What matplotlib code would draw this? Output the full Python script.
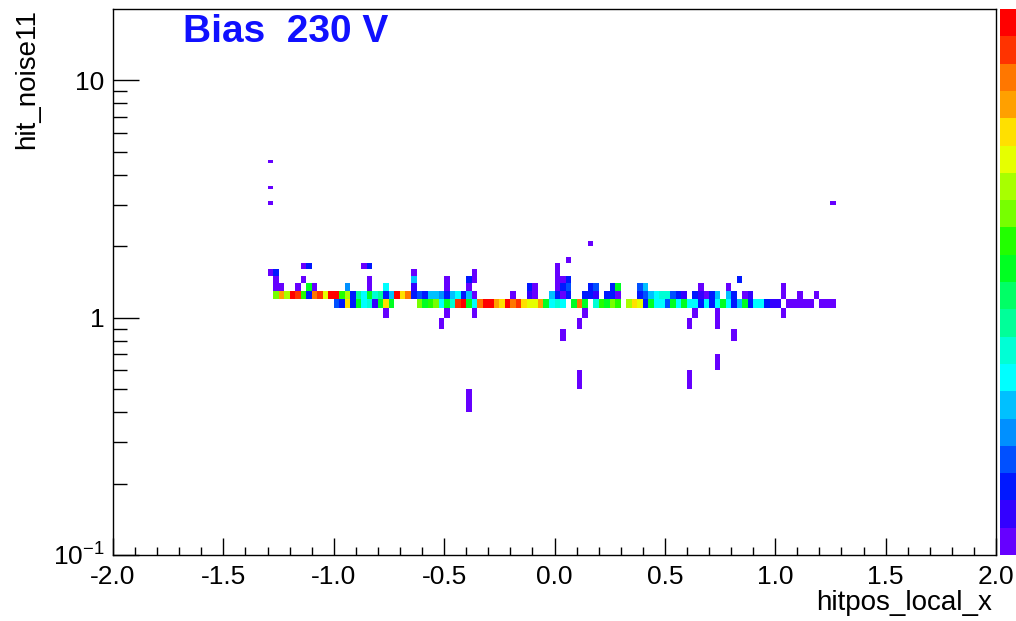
import numpy as np
import matplotlib
matplotlib.use("Agg")
import matplotlib.pyplot as plt
from matplotlib.colors import ListedColormap, BoundaryNorm
from matplotlib.ticker import FixedLocator, FixedFormatter, NullFormatter

plt.rcParams['font.family'] = ['Liberation Sans', 'DejaVu Sans']
plt.rcParams['axes.unicode_minus'] = False

# histogram binning
x_edges = np.linspace(-2.0, 2.0, 161)
y_edges = np.round(np.arange(1, 201) * 0.1, 1)

# dense band: one count per x bin, first bin centre at -1.2625 (step 0.025)
band_x0 = -1.2625
band_hi_y = 1.25   # row 1.2 - 1.3
band_lo_y = 1.15   # row 1.1 - 1.2
band_hi = [13, 17, 14, 20, 19, 12, 3, 18, 19, 15, 20, 20, 12, 14, 3, 9, 7,
           11, 8, 9, 3, 6, 20, 16, 18, 3, 4, 3, 6, 6, 5, 3, 6, 7, 3,
           6, 1, 0, 0, 0, 0, 0, 0, 1, 0, 0, 2, 1, 0, 0, 6, 3,
           1, 3, 0, 0, 3, 3, 2, 0, 3, 3, 1, 0, 0, 0, 3, 4, 6, 7,
           8, 8, 4, 3, 2, 0, 3, 2, 1, 3, 6, 0, 6, 3, 0, 1, 2, 0,
           0, 0, 0, 0, 1, 0, 0, 1, 0, 0, 1, 0, 0, 0]
band_lo = [0, 0, 0, 0, 0, 0, 0, 0, 0, 0, 0,
           4, 3, 16, 3, 11, 7, 8, 2, 11, 16, 11,
           0, 0, 0, 0,
           13, 11, 12, 13, 7, 11, 8, 19, 20, 11, 7, 18, 20, 20, 17, 16, 20, 18,
           19, 16, 15, 15, 17, 11, 7, 8,
           7, 0, 11, 18, 11, 0, 8, 12, 11, 13, 12, 0, 14, 16, 15, 3, 11, 7,
           7, 4, 11, 7, 11, 7, 7, 3, 7, 3, 7, 11, 7, 3, 6, 11, 3, 7,
           7, 3, 2, 2, 0, 1, 1, 1, 1, 1, 0, 1, 1, 1]

# scattered entries off the band (bin centres)
out_x = [-1.2875, -1.2875, -1.2875, 1.2625, -1.2875, -1.2625, -1.2625, -1.2625,
         -1.2375, -1.1625, -1.1375, -1.1125, -1.1375, -1.1125, -1.0875, -0.9375,
         -0.8625, -0.8375, -0.8375, -0.8375, -0.7625, -0.7625, -0.6375, -0.6375,
         -0.6375, -0.5125, -0.4875, -0.4875, -0.4875, -0.3875, -0.3875, -0.3875,
         -0.3625, -0.3625, -0.3625, -0.1125, -0.0875, 0.0125, 0.0125, 0.0125,
         0.0125, 0.0375, 0.0375, 0.0375, 0.0625, 0.0625, 0.0625, 0.1125, 0.1125,
         0.1375, 0.1625, 0.1625, 0.1875, 0.2625, 0.2875, 0.3875, 0.4125, 0.6125,
         0.6125, 0.6375, 0.6625, 0.7375, 0.7375, 0.7375, 0.7875, 0.8125, 0.8375,
         1.0375, 1.0375]
out_y = [4.55, 3.55, 3.05, 3.05, 1.55, 1.55, 1.45, 1.35,
         1.35, 1.35, 1.65, 1.65, 1.45, 1.35, 1.35, 1.35,
         1.65, 1.65, 1.45, 1.35, 1.35, 1.05, 1.55, 1.45,
         1.35, 0.95, 1.45, 1.35, 1.05, 1.45, 1.35, 0.45,
         1.55, 1.45, 1.05, 1.35, 1.35, 1.65, 1.55, 1.45,
         1.35, 1.45, 1.35, 0.85, 1.75, 1.45, 1.35, 0.95, 0.55,
         1.05, 2.05, 1.35, 1.35, 1.35, 1.35, 1.35, 1.35, 0.95,
         0.55, 1.05, 1.35, 1.05, 0.95, 0.65, 1.35, 0.85, 1.45,
         1.35, 1.05]
out_c = [1, 1, 1, 1, 1, 3, 1, 1,
         1, 1, 1, 3, 1, 11, 1, 5,
         1, 3, 1, 1, 7, 1, 1, 6,
         2, 1, 1, 1, 1, 3, 1, 1,
         1, 1, 1, 3, 1, 1, 1, 1,
         1, 1, 3, 1, 1, 3, 4, 1, 1,
         1, 1, 3, 4, 3, 11, 4, 6, 1,
         1, 1, 1, 1, 1, 1, 1, 1, 3,
         1, 1]

# 20 level palette, lowest to highest
palette = ['#6600ff', '#3300ff', '#0018ff', '#0050ff', '#0090ff',
           '#00c0ff', '#00ffff', '#00ffd5', '#00ff99', '#00ff66',
           '#00ff22', '#22ff00', '#77ff00', '#a8ff00', '#e6ff00',
           '#ffe000', '#ffa000', '#ff7700', '#ff3300', '#ff0000']

bx = band_x0 + 0.025 * np.arange(len(band_hi))
x = np.concatenate([bx, bx, out_x])
y = np.concatenate([np.full(len(bx), band_hi_y), np.full(len(bx), band_lo_y), out_y])
w = np.concatenate([band_hi, band_lo, out_c]).astype(float)

cmap = ListedColormap(palette)
norm = BoundaryNorm(np.arange(0.5, 21.0, 1.0), cmap.N)

fig = plt.figure(figsize=(10.16, 6.21), dpi=100)
ax = fig.add_axes([113 / 1016, 66 / 621, 883 / 1016, 546 / 621])
h = ax.hist2d(x, y, bins=[x_edges, y_edges], weights=w, cmap=cmap, norm=norm, cmin=0.5)

ax.set_yscale('log')
ax.set_xlim(-2.0, 2.0)
ax.set_ylim(0.1, 20)

ax.xaxis.set_major_locator(FixedLocator(np.arange(-2.0, 2.01, 0.5)))
ax.xaxis.set_minor_locator(FixedLocator(np.arange(-2.0, 2.01, 0.1)))
ax.xaxis.set_major_formatter(FixedFormatter(['%.1f' % v for v in np.arange(-2.0, 2.01, 0.5)]))
ax.yaxis.set_major_locator(FixedLocator([0.1, 1, 10]))
ax.yaxis.set_major_formatter(FixedFormatter(['$\\mathregular{10^{-1}}$', '1', '10']))
ax.yaxis.set_minor_locator(FixedLocator([0.2, 0.3, 0.4, 0.5, 0.6, 0.7, 0.8, 0.9,
                                         2, 3, 4, 5, 6, 7, 8, 9]))
ax.yaxis.set_minor_formatter(NullFormatter())

ax.tick_params(axis='x', which='major', direction='in', length=12, width=1.0, labelsize=19, pad=7)
ax.tick_params(axis='x', which='minor', direction='in', length=6, width=1.0)
ax.tick_params(axis='y', which='major', direction='in', length=19, width=1.0, labelsize=19, pad=6)
ax.tick_params(axis='y', which='minor', direction='in', length=10, width=1.0)
ax.tick_params(top=False, right=False, which='both')
for s in ax.spines.values():
    s.set_linewidth(1.0)

cax = fig.add_axes([1000 / 1016, 66 / 621, 16 / 1016, 546 / 621])
cb = fig.colorbar(h[3], cax=cax)
cb.outline.set_visible(False)
cax.set_yticks([])

fig.text(992 / 1016, 1 - 603 / 621, 'hitpos_local_x', ha='right', va='center', fontsize=20)
fig.text(27 / 1016, 1 - 9 / 621, 'hit_noise11', ha='center', va='top', rotation=90, fontsize=20)
fig.text(183 / 1016, 1 - 32 / 621, 'Bias  230 V', ha='left', va='center',
         fontsize=28, fontweight='bold', color='#1010ff')

fig.savefig('out.png', dpi=100)
